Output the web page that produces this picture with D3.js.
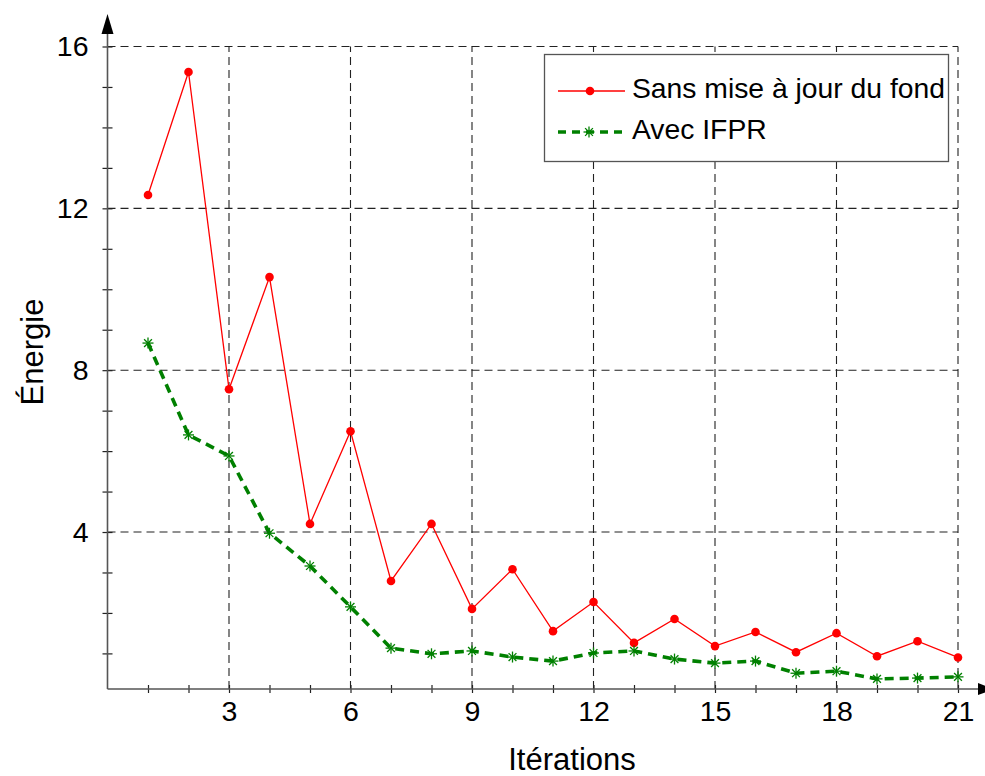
<!DOCTYPE html>
<html>
<head>
<meta charset="utf-8">
<script src="https://cdn.jsdelivr.net/npm/d3@7"></script>
<style>
  html, body { margin: 0; padding: 0; background: #fff; }
  svg { display: block; font-family: "Liberation Sans", Arial, sans-serif; }
</style>
</head>
<body>
<svg id="chart" width="985" height="776"></svg>
<script>
// ---- data ----
const iterations = d3.range(1, 22);
const sansMiseAJour = [12.33, 15.37, 7.53, 10.30, 4.20, 6.49, 2.79, 4.20, 2.10, 3.08,
                       1.55, 2.27, 1.26, 1.85, 1.18, 1.53, 1.03, 1.50, 0.93, 1.30, 0.90];
const avecIFPR = [8.67, 6.40, 5.88, 3.97, 3.16, 2.15, 1.13, 0.99, 1.06, 0.91,
                  0.81, 1.01, 1.06, 0.86, 0.76, 0.81, 0.51, 0.56, 0.37, 0.39, 0.42];
const xTickLabels = [3, 6, 9, 12, 15, 18, 21];
const yTickLabels = [4, 8, 12, 16];
const seriesNames = ["Sans mise à jour du fond", "Avec IFPR"];
const xTitle = "Itérations";
const yTitle = "Énergie";

// ---- layout ----
const svg = d3.select("#chart");
const x = d3.scaleLinear().domain([0, 21]).range([107.5, 958]);
const y = d3.scaleLinear().domain([0.12, 16]).range([689, 46.5]);
const xAxisEnd = 986, yAxisTop = 16;
const axisColor = "#555";
const gridColor = "#222";

// grid
const grid = svg.append("g");
grid.selectAll("line.h").data(yTickLabels).join("line")
  .attr("x1", x(0)).attr("x2", x(21))
  .attr("y1", d => y(d)).attr("y2", d => y(d))
  .attr("stroke", gridColor).attr("stroke-width", 1.1).attr("stroke-dasharray", "8,5");
grid.selectAll("line.v").data(xTickLabels).join("line")
  .attr("x1", d => x(d)).attr("x2", d => x(d))
  .attr("y1", y.range()[0]).attr("y2", y(16))
  .attr("stroke", gridColor).attr("stroke-width", 1.1).attr("stroke-dasharray", "8,5");

// x axis
const xAxis = d3.axisBottom(x).tickValues(iterations).tickSize(4).tickPadding(10)
  .tickFormat(d => xTickLabels.includes(d) ? d : "");
const gx = svg.append("g").attr("transform", `translate(0,${y.range()[0]})`).call(xAxis);
gx.select(".domain").remove();
gx.selectAll(".tick line").attr("y1", -4).attr("y2", 4).attr("stroke", "#222").attr("stroke-width", 1.2);
gx.selectAll(".tick text").attr("font-size", 28.5).attr("fill", "#000")
  .attr("font-family", "Liberation Sans, Arial, sans-serif").attr("dy", "0.71em").attr("y", 12);
svg.append("line").attr("x1", x(0)).attr("x2", xAxisEnd)
  .attr("y1", y.range()[0]).attr("y2", y.range()[0])
  .attr("stroke", axisColor).attr("stroke-width", 1.6);
svg.append("path")
  .attr("d", `M${xAxisEnd + 8},${y.range()[0]} L${xAxisEnd - 8},${y.range()[0] - 6} L${xAxisEnd - 8},${y.range()[0] + 6} Z`)
  .attr("fill", "#000");

// y axis
const yAxis = d3.axisLeft(y).tickValues(d3.range(1, 17)).tickSize(5).tickPadding(14)
  .tickFormat(d => yTickLabels.includes(d) ? d : "");
const gy = svg.append("g").attr("transform", `translate(${x(0)},0)`).call(yAxis);
gy.select(".domain").remove();
gy.selectAll(".tick line").attr("x1", -5).attr("x2", 5).attr("stroke", "#222").attr("stroke-width", 1.2);
gy.selectAll(".tick text").attr("font-size", 28.5).attr("fill", "#000")
  .attr("font-family", "Liberation Sans, Arial, sans-serif");
svg.append("line").attr("x1", x(0)).attr("x2", x(0))
  .attr("y1", y.range()[0]).attr("y2", 30)
  .attr("stroke", axisColor).attr("stroke-width", 1.6);
svg.append("path")
  .attr("d", `M${x(0)},${yAxisTop - 2} L${x(0) - 6},${yAxisTop + 18} L${x(0) + 6},${yAxisTop + 18} Z`)
  .attr("fill", "#000");

// axis titles
svg.append("text").attr("x", 572).attr("y", 770).attr("text-anchor", "middle")
  .attr("font-size", 31).attr("fill", "#000").text(xTitle);
svg.append("text").attr("transform", "translate(43,352) rotate(-90)").attr("text-anchor", "middle")
  .attr("font-size", 31).attr("fill", "#000").text(yTitle);

// series
const red = "#ff0000", green = "#008000";
const line = d3.line().x((d, i) => x(iterations[i])).y(d => y(d));
svg.append("path").datum(sansMiseAJour).attr("d", line)
  .attr("fill", "none").attr("stroke", red).attr("stroke-width", 1.3);
svg.append("path").datum(avecIFPR).attr("d", line)
  .attr("fill", "none").attr("stroke", green).attr("stroke-width", 3.6)
  .attr("stroke-dasharray", "9,6");

svg.append("g").selectAll("circle").data(sansMiseAJour).join("circle")
  .attr("cx", (d, i) => x(iterations[i])).attr("cy", d => y(d)).attr("r", 4.3).attr("fill", red);

function asterisk(g, cx, cy, s) {
  [0, 45, 90, 135].forEach(a => {
    const r = a * Math.PI / 180;
    g.append("line")
      .attr("x1", cx - s * Math.cos(r)).attr("y1", cy - s * Math.sin(r))
      .attr("x2", cx + s * Math.cos(r)).attr("y2", cy + s * Math.sin(r))
      .attr("stroke", green).attr("stroke-width", 1.3);
  });
}
const stars = svg.append("g");
avecIFPR.forEach((d, i) => asterisk(stars, x(iterations[i]), y(d), 5.5));

// legend
const lg = svg.append("g");
lg.append("rect").attr("x", 544.5).attr("y", 54.5).attr("width", 404).attr("height", 107)
  .attr("fill", "#fff").attr("stroke", "#555").attr("stroke-width", 1.3);
lg.append("line").attr("x1", 558).attr("x2", 625).attr("y1", 91).attr("y2", 91)
  .attr("stroke", red).attr("stroke-width", 1.3);
lg.append("circle").attr("cx", 590).attr("cy", 91).attr("r", 4.3).attr("fill", red);
lg.append("text").attr("x", 632).attr("y", 98).attr("font-size", 28.3).attr("fill", "#000").text(seriesNames[0]);
lg.append("line").attr("x1", 558).attr("x2", 623).attr("y1", 132).attr("y2", 132)
  .attr("stroke", green).attr("stroke-width", 3.6).attr("stroke-dasharray", "8,6");
asterisk(lg, 589, 132, 5.5);
lg.append("text").attr("x", 632).attr("y", 139).attr("font-size", 28.3).attr("fill", "#000").text(seriesNames[1]);
</script>
</body>
</html>
